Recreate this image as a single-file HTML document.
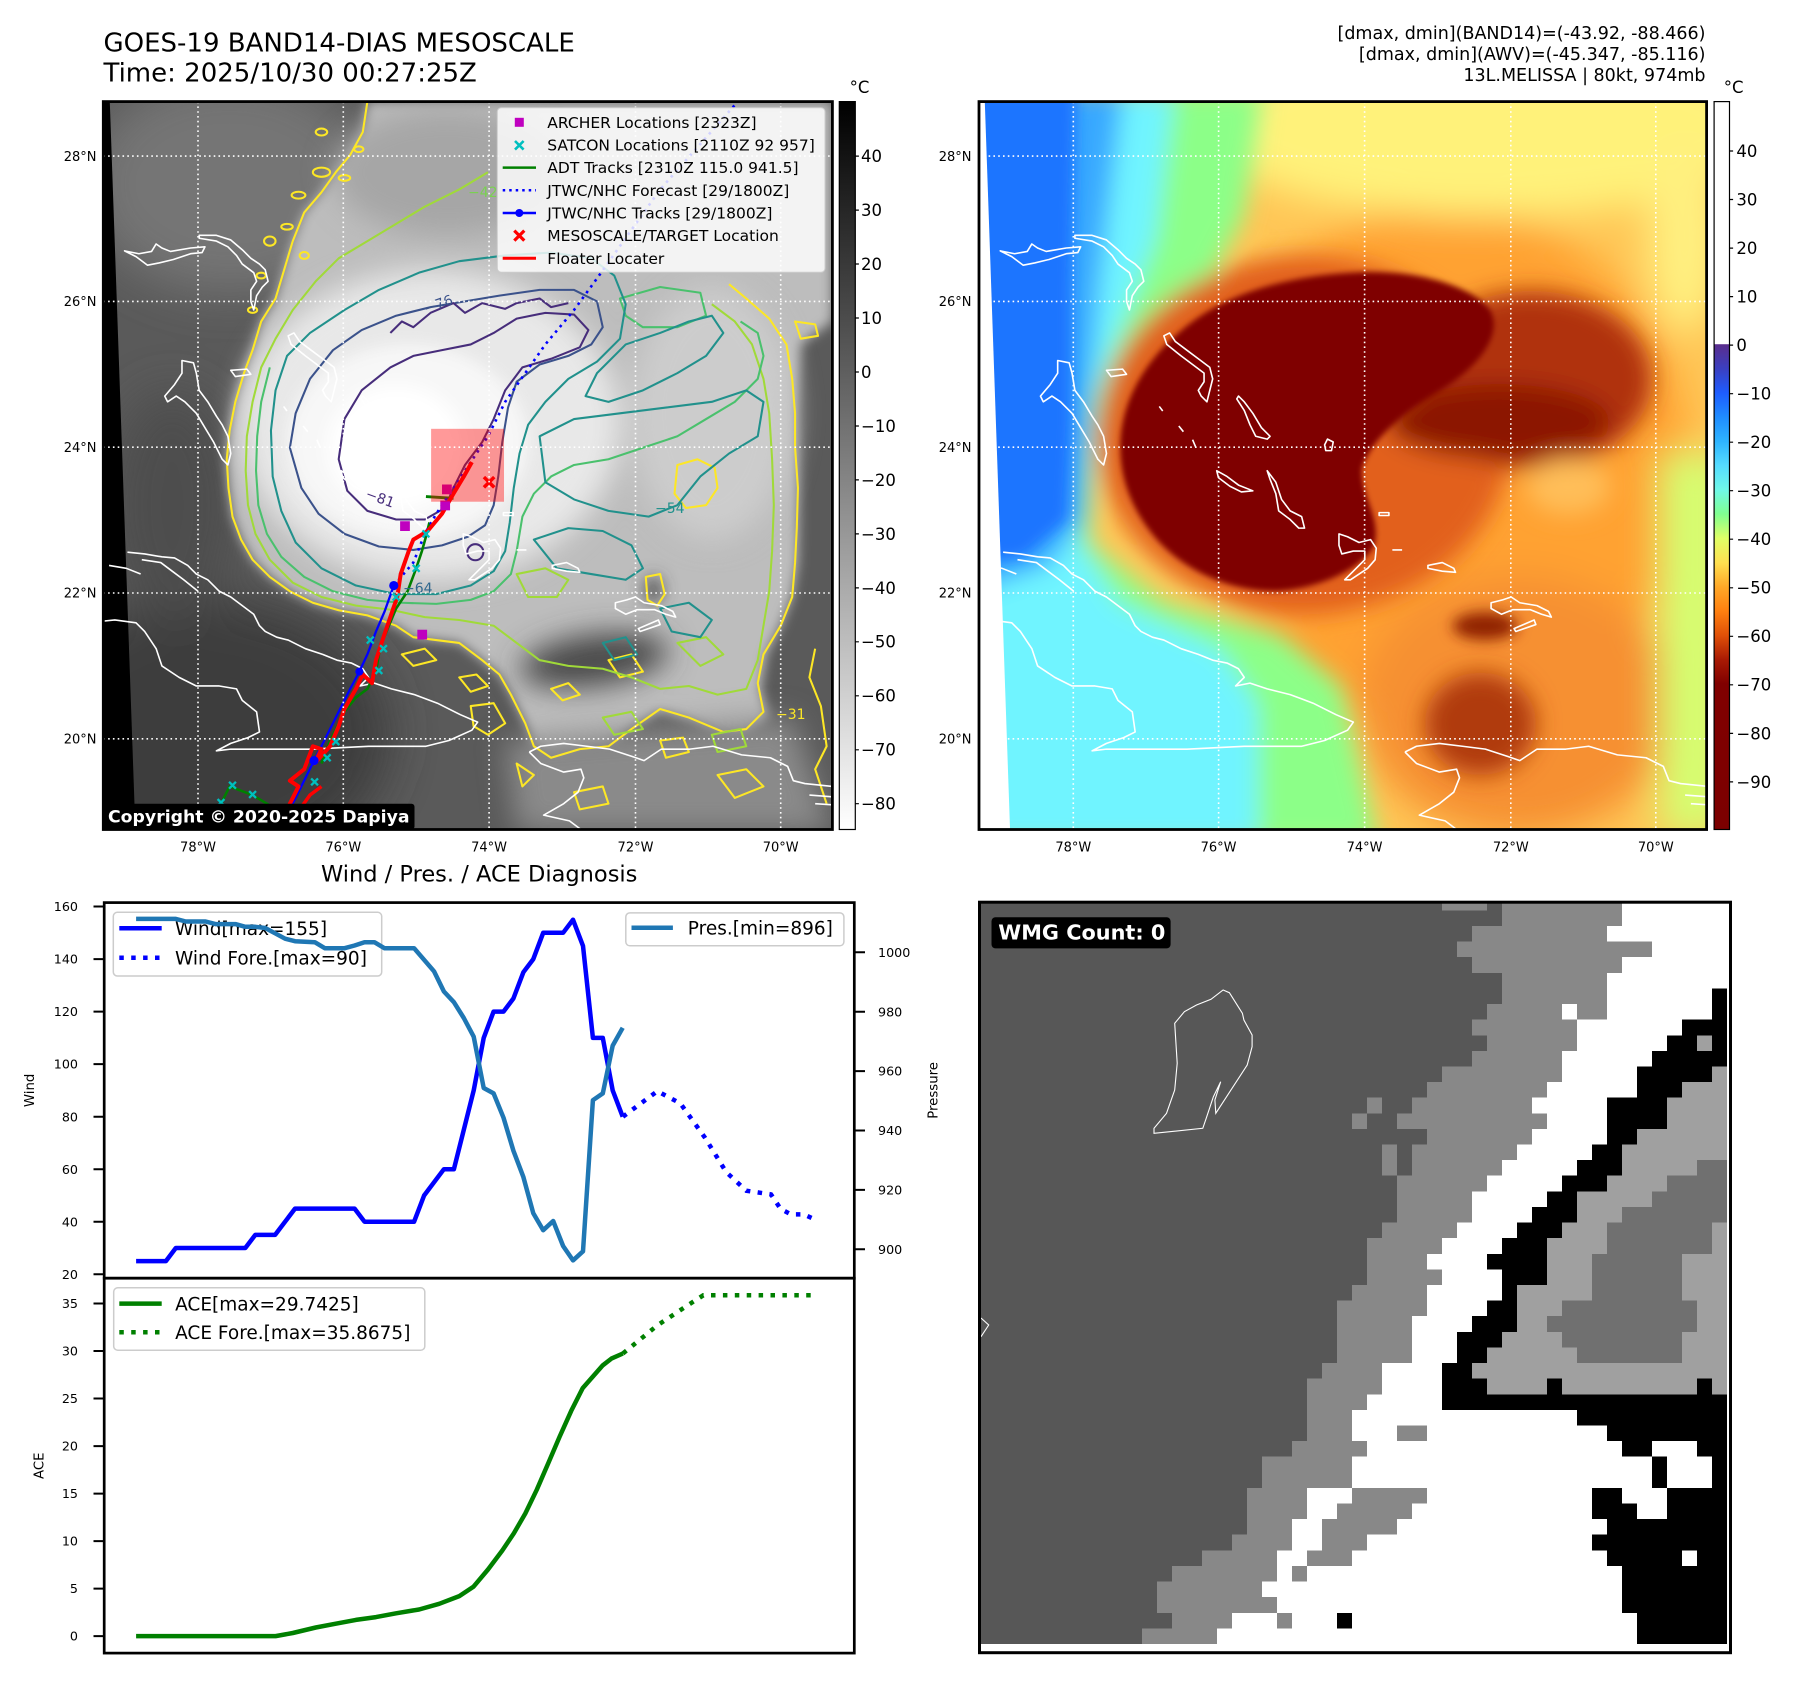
<!DOCTYPE html>
<html><head><meta charset="utf-8">
<style>
html,body{margin:0;padding:0;background:#fff;}
svg{display:block;}
</style></head><body>
<svg width="1797" height="1690" viewBox="0 0 1797 1690" xmlns="http://www.w3.org/2000/svg" xmlns:xlink="http://www.w3.org/1999/xlink" font-family="'DejaVu Sans','Liberation Sans',sans-serif">
<defs>
 <clipPath id="clipL"><rect x="103.3" y="101.6" width="729.1" height="727.9"/></clipPath>
 <clipPath id="clipR"><rect x="979" y="101.6" width="727.6" height="727.9"/></clipPath>
 <clipPath id="clipW"><rect x="979.5" y="902" width="751" height="750.5"/></clipPath>
 <filter id="b40" x="-60%" y="-60%" width="220%" height="220%"><feGaussianBlur stdDeviation="40"/></filter>
 <filter id="b25" x="-60%" y="-60%" width="220%" height="220%"><feGaussianBlur stdDeviation="25"/></filter>
 <filter id="b15" x="-60%" y="-60%" width="220%" height="220%"><feGaussianBlur stdDeviation="15"/></filter>
 <filter id="b10" x="-30%" y="-30%" width="160%" height="160%"><feGaussianBlur stdDeviation="10"/></filter>
 <filter id="b6" x="-30%" y="-30%" width="160%" height="160%"><feGaussianBlur stdDeviation="6"/></filter>
 <linearGradient id="gL" x1="0" y1="0" x2="0" y2="1"><stop offset="0" stop-color="#000"/><stop offset="1" stop-color="#fff"/></linearGradient>
 <linearGradient id="gR" x1="0" y1="0" x2="0" y2="1">
  <stop offset="0" stop-color="#fff"/><stop offset="0.3333" stop-color="#fff"/>
  <stop offset="0.3334" stop-color="#5a2d8c"/><stop offset="0.3667" stop-color="#3b3fc0"/>
  <stop offset="0.4" stop-color="#1e5cff"/><stop offset="0.4333" stop-color="#1f8cff"/>
  <stop offset="0.4667" stop-color="#2eb4ff"/><stop offset="0.5" stop-color="#55dcff"/>
  <stop offset="0.5333" stop-color="#6ff8e8"/><stop offset="0.5667" stop-color="#80ff90"/>
  <stop offset="0.6" stop-color="#e0ff66"/><stop offset="0.6333" stop-color="#ffe050"/>
  <stop offset="0.6667" stop-color="#ffa828"/><stop offset="0.7" stop-color="#ff8010"/>
  <stop offset="0.7333" stop-color="#e05008"/><stop offset="0.7667" stop-color="#a81a04"/>
  <stop offset="0.8" stop-color="#800000"/><stop offset="1" stop-color="#7c0000"/>
 </linearGradient>
 <g id="coast" fill="none" stroke="#fff" stroke-width="2.8" stroke-linejoin="round">
  <path d="M217,437 L237,447 L257,462 L277,458 L302,452 L332,442 L352,440 L357,430 L332,432 L297,438 L282,432 L272,425 L264,438 L242,442 Z"/>
  <path d="M347,410 L377,410 L402,418 L422,435 L437,450 L452,460 L462,470 L467,490 L457,500 L447,515 L442,540 L437,525 L437,505 L447,490 L442,475 L422,460 L412,445 L397,430 L377,420 L347,415 Z"/>
  <path d="M317,628 L337,632 L342,650 L347,680 L362,700 L377,725 L387,740 L397,760 L402,790 L397,810 L387,800 L372,770 L357,745 L342,720 L322,700 L307,690 L292,700 L287,690 L304,670 L317,650 Z"/>
  <path d="M402,645 L430,643 L437,652 L410,656 Z"/>
  <path d="M502,585 L512,580 L522,595 L542,610 L562,625 L582,640 L587,660 L582,680 L577,700 L567,690 L562,680 L572,665 L572,650 L552,635 L532,620 L507,600 Z"/>
  <path d="M494,708 L500,716 M528,742 L536,752 M552,766 L558,780"/>
  <path d="M632,690 L642,700 L657,720 L672,745 L687,760 L682,765 L662,760 L652,740 L642,715 L629,695 Z"/>
  <path d="M787,765 L797,770 L794,785 L784,785 L782,775 Z"/>
  <path d="M682,820 L697,840 L707,870 L722,890 L742,900 L747,920 L737,920 L722,905 L702,890 L697,860 L687,835 Z"/>
  <path d="M594,820 L612,830 L632,845 L657,855 L637,857 L617,847 L597,832 Z"/>
  <path d="M807,930 L822,935 L842,945 L862,940 L872,955 L870,975 L857,990 L842,1000 L827,1010 L817,1010 L832,995 L852,975 L852,960 L832,960 L812,965 L807,950 Z"/>
  <path d="M877,893 L894,893 L894,898 L877,898 Z"/>
  <path d="M900,958 L917,958"/>
  <path d="M962,985 L987,980 L1007,990 L1010,997 L987,995 L962,990 Z"/>
  <path d="M1072,1050 L1092,1045 L1107,1040 L1122,1050 L1152,1055 L1172,1065 L1177,1075 L1160,1070 L1140,1062 L1110,1062 L1090,1070 L1072,1060 Z"/>
  <path d="M1112,1095 L1147,1080 L1150,1088 L1115,1100 Z"/>
  <path d="M222,962 L252,965 L282,970 L304,972 L327,985 L342,1000 L362,1010 L382,1030 L402,1040 L422,1055 L442,1070 L452,1090 L462,1100 L482,1110 L502,1115 L532,1130 L562,1140 L587,1150 L612,1155 L632,1165 L642,1180 L627,1195 L652,1190 L682,1200 L722,1210 L762,1225 L802,1245 L832,1258 L822,1272 L782,1290 L742,1300 L702,1300 L642,1300 L602,1302 L542,1305 L492,1305 L442,1305 L402,1305 L377,1308 L402,1295 L432,1285 L452,1275 L447,1240 L422,1220 L412,1200 L382,1195 L342,1195 L312,1180 L282,1160 L272,1130 L252,1100 L237,1085 L200,1080 L180,1082"/>
  <path d="M247,975 L280,980 L300,995 L320,1010 L345,1030 M190,985 L220,990 L245,1000"/>
  <path d="M922,1310 L942,1300 L982,1295 L1022,1300 L1062,1305 L1102,1318 L1122,1325 L1152,1305 L1202,1305 L1242,1300 L1292,1315 L1342,1320 L1372,1335 L1382,1360 L1402,1365 L1450,1370"/>
  <path d="M922,1310 L942,1330 L982,1345 L1012,1340 L1017,1355 L1007,1380 L982,1400 L947,1420 L992,1430 L1012,1445"/>
  <path d="M1410,1385 L1450,1388 M1420,1400 L1450,1402"/>
 </g>
</defs>

<rect x="0" y="0" width="1797" height="1690" fill="#fff"/>

<!-- ===== Titles ===== -->
<text x="103.5" y="51.5" font-size="26" fill="#000">GOES-19 BAND14-DIAS MESOSCALE</text>
<text x="103.5" y="81.5" font-size="26" fill="#000">Time: 2025/10/30 00:27:25Z</text>
<text x="1705.5" y="39" font-size="17.5" text-anchor="end">[dmax, dmin](BAND14)=(-43.92, -88.466)</text>
<text x="1705.5" y="60" font-size="17.5" text-anchor="end">[dmax, dmin](AWV)=(-45.347, -85.116)</text>
<text x="1705.5" y="81" font-size="17.5" text-anchor="end">13L.MELISSA | 80kt, 974mb</text>

<!-- ===== LEFT MAP ===== -->
<g clip-path="url(#clipL)">
 <g transform="scale(0.57405)">
  <rect x="170" y="170" width="1290" height="1290" fill="#5a5a5a"/>
  <g filter="url(#b40)">
   <ellipse cx="400" cy="320" rx="250" ry="190" fill="#747474"/>
   <ellipse cx="360" cy="1280" rx="320" ry="240" fill="#3e3e3e"/>
   <ellipse cx="300" cy="880" rx="110" ry="200" fill="#4e4e4e"/>
  </g>
  <path filter="url(#b10)" fill="#bdbdbd" d="M640,177 L1450,177 L1450,560 L1395,600 L1388,720 L1392,850 L1390,980 L1380,1040 L1360,1090 L1335,1140 L1325,1200 L1340,1250 L1300,1280 L1260,1280 L1200,1255 L1150,1240 L1100,1270 L1060,1300 L1010,1305 L960,1320 L930,1300 L915,1260 L890,1210 L870,1175 L840,1150 L800,1120 L760,1115 L720,1110 L690,1090 L640,1072 L590,1063 L545,1050 L505,1030 L470,1005 L440,975 L420,940 L405,900 L398,850 L395,800 L400,750 L410,700 L425,650 L440,610 L455,560 L480,520 L495,470 L510,420 L530,370 L560,335 L585,300 L610,270 L632,230 Z"/>
  <g filter="url(#b25)">
   <polygon points="880,1290 1380,1250 1450,1450 900,1450" fill="#8a8a8a"/>
   <ellipse cx="1035" cy="1150" rx="130" ry="45" fill="#4a4a4a" transform="rotate(-8 1035 1150)"/>
   <ellipse cx="780" cy="300" rx="200" ry="110" fill="#a6a6a6"/>
   <ellipse cx="1240" cy="720" rx="140" ry="220" fill="#cccccc"/>
   <ellipse cx="750" cy="740" rx="330" ry="270" fill="#e8e8e8"/>
  </g>
  <g filter="url(#b15)">
   <ellipse cx="710" cy="770" rx="210" ry="170" fill="#f7f7f7"/>
   <ellipse cx="690" cy="780" rx="120" ry="110" fill="#ffffff"/>
   <ellipse cx="1138" cy="1028" rx="14" ry="24" fill="#404040"/>
  </g>
  <polygon points="170,170 191,170 236,1450 170,1450" fill="#000"/>

  <!-- contours -->
  <g fill="none" stroke-width="3.6" stroke-linejoin="round">
   <g stroke="#fde725">
    <path d="M640,177 L632,230 L610,270 L585,300 L560,335 L530,370 L510,420 L495,470 L480,520 L455,560 L440,610 L425,650 L410,700 L400,750 L395,800 L398,850 L405,900 L420,940 L440,975 L470,1005 L505,1030 L545,1050 L590,1063 L640,1072 L690,1090 L720,1110 L760,1115 L800,1120 L840,1150 L870,1175 L890,1210 L915,1260 L930,1300 L960,1320 L1010,1305 L1060,1300 L1100,1270 L1150,1235 L1200,1250 L1260,1275 L1300,1270 L1330,1240 L1320,1190 L1330,1140 L1360,1090 L1380,1040 L1385,980 L1388,920 L1390,850 L1385,780 L1385,720 L1380,660 L1370,600 L1340,555 L1300,520 L1270,495"/>
    <path d="M1420,1130 L1410,1180 L1430,1230 L1440,1300 L1420,1340 L1440,1400"/>
    <path d="M1180,810 L1215,800 L1245,815 L1250,850 L1230,880 L1195,885 L1175,860 Z"/>
    <path d="M1125,1005 L1150,1000 L1158,1035 L1145,1055 L1128,1045 Z"/>
    <path d="M700,1140 L740,1130 L760,1150 L720,1160 Z M800,1180 L830,1175 L850,1195 L820,1205 Z M960,1200 L990,1190 L1010,1210 L980,1220 Z M1060,1150 L1100,1140 L1120,1170 L1080,1180 Z M1250,1350 L1300,1340 L1330,1370 L1280,1390 Z M1000,1380 L1050,1370 L1060,1400 L1010,1410 Z M1385,560 L1420,565 L1425,585 L1395,590 Z"/>
    <ellipse cx="560" cy="300" rx="15" ry="8"/><ellipse cx="520" cy="340" rx="12" ry="6"/>
    <ellipse cx="470" cy="420" rx="10" ry="8"/><ellipse cx="530" cy="445" rx="8" ry="6"/>
    <ellipse cx="440" cy="540" rx="8" ry="5"/><ellipse cx="600" cy="310" rx="10" ry="5"/>
    <ellipse cx="500" cy="395" rx="10" ry="5"/><ellipse cx="625" cy="260" rx="8" ry="5"/>
    <ellipse cx="560" cy="230" rx="10" ry="6"/><ellipse cx="455" cy="480" rx="8" ry="5"/>
    <path d="M820,1230 L860,1225 L880,1260 L850,1280 L825,1265 Z M1150,1290 L1190,1285 L1200,1310 L1160,1320 Z M900,1330 L930,1350 L910,1370 Z"/>
   </g>
   <g stroke="#a0da39">
    <path d="M850,300 L800,330 L740,360 L690,390 L640,420 L590,450 L550,490 L510,540 L480,590 L455,640 L440,700 L430,760 L428,820 L432,880 L445,930 L470,975 L510,1015 L560,1040 L620,1055 L680,1062 L740,1075 L800,1080 L860,1090 L900,1120 L940,1150 L990,1160 L1050,1165 L1100,1180 L1150,1200 L1200,1195 L1250,1210 L1300,1200 L1320,1150 L1330,1090 L1340,1030 L1345,960 L1348,880 L1345,800 L1340,720 L1330,660 L1310,600 L1280,560 L1240,530"/>
    <path d="M900,1000 L950,990 L990,1010 L970,1040 L920,1040 Z M1180,1120 L1230,1110 L1260,1140 L1220,1160 Z M1050,1250 L1100,1240 L1120,1270 L1070,1280 Z M1240,1280 L1290,1270 L1300,1300 L1250,1310 Z"/>
   </g>
   <g stroke="#4ac16d">
    <path d="M470,640 L455,700 L448,760 L446,820 L450,880 L465,930 L490,970 L530,1005 L580,1030 L640,1045 L700,1050 L760,1052 L820,1045 L860,1030 L890,1000 L900,960 L910,900 L930,860 L960,830 L1000,810 L1060,800 L1120,780 L1180,760 L1230,730 L1280,700 L1320,660 L1330,620 L1320,580 L1290,560"/>
    <path d="M1080,520 L1150,500 L1220,510 L1230,550 L1180,570 L1120,570 L1090,550 Z"/>
   </g>
   <g stroke="#21918c">
    <path d="M480,680 L500,620 L540,580 L600,540 L660,505 L730,475 L800,455 L880,445 L960,440 L1030,450 L1070,480 L1090,530 L1080,590 L1040,630 L990,660 L950,700 L920,740 L905,790 L895,850 L888,910 L880,960 L860,995 L820,1020 L760,1035 L690,1035 L620,1020 L560,990 L515,945 L490,890 L475,830 L472,750 Z"/>
    <path d="M1090,600 L1150,580 L1200,560 L1240,550 L1260,580 L1230,620 L1180,650 L1120,680 L1060,700 L1020,690 L1040,650 Z"/>
    <path d="M940,760 L1000,730 L1080,720 L1160,710 L1240,700 L1300,680 L1330,700 L1320,760 L1270,790 L1220,830 L1180,880 L1130,900 L1060,890 L1000,870 L950,840 Z"/>
    <path d="M930,940 L990,920 L1050,925 L1100,950 L1120,990 L1090,1010 L1030,1000 L970,990 Z M1150,1060 L1200,1050 L1240,1080 L1220,1110 L1170,1100 Z M1050,1120 L1090,1110 L1110,1140 L1070,1150 Z"/>
   </g>
   <g stroke="#3b528b">
    <path d="M505,780 L515,720 L540,660 L580,610 L630,575 L690,550 L750,535 L810,525 L870,515 L940,505 L1000,505 L1040,525 L1050,570 L1030,600 L990,620 L940,635 L900,665 L885,710 L875,770 L868,830 L860,880 L845,915 L815,935 L770,950 L720,958 L660,952 L600,930 L555,895 L525,850 Z"/>
   </g>
   <g stroke="#472d7b">
    <path d="M590,800 L600,730 L630,680 L680,640 L720,620 L770,610 L820,600 L860,580 L900,555 L950,545 L1000,548 L1025,575 L1010,605 L960,625 L910,640 L880,680 L860,730 L840,770 L810,810 L790,850 L775,885 L740,905 L690,905 L640,890 L605,855 Z"/>
    <path d="M680,580 L700,560 L720,570 L750,545 L790,528 L810,545 L840,528 L880,538 L900,528 L940,520 L960,535 L990,528"/>
    <circle cx="828" cy="962" r="14"/>
   </g>
  </g>
  <use xlink:href="#coast" href="#coast"/>

  <!-- tracks -->
  <g fill="none" stroke-linejoin="round">
   <path d="M385,1400 L400,1370 L440,1385 L465,1400 L490,1420" stroke="#008000" stroke-width="4.5"/>
   <path d="M560,1330 L575,1290 L600,1240 L620,1215 L640,1200 L655,1170 L660,1140 L665,1120 L690,1060 L710,1030 L725,990 L735,960 L742,935 L748,910" stroke="#008000" stroke-width="4.5"/>
   <path d="M742,865 L790,868" stroke="#008000" stroke-width="5"/>
   <path d="M485,1445 L515,1390 L547,1325 L565,1290 L590,1240 L610,1200 L625,1172 L640,1140 L655,1100 L670,1065 L686,1020" stroke="#0000ff" stroke-width="4"/>
   <path d="M686,1020 L720,980 L740,930 L760,895 L790,850 L820,805 L850,760 L880,700 L950,600 L1000,540 L1040,485 L1150,330 L1280,183" stroke="#0000ff" stroke-width="4.5" stroke-dasharray="4.5 8"/>
   <path d="M490,1445 L505,1400 L520,1370 L505,1360 L530,1340 L545,1300 L560,1305 L548,1330 L575,1300 L590,1265 L600,1235 L620,1200 L632,1175 L648,1190 L655,1150 L668,1110 L685,1060 L692,1040 L698,1000 L712,960 L720,940 L745,925 L770,895 L790,860 L808,830 L822,805" stroke="#ff0000" stroke-width="7"/>
   <path d="M510,1445 L522,1410 L540,1385 L560,1370" stroke="#ff0000" stroke-width="6"/>
  </g>
  <g fill="#0000ff"><circle cx="547" cy="1325" r="8"/><circle cx="626" cy="1170" r="7"/><circle cx="686" cy="1020" r="8"/></g>
  <g stroke="#00bfbf" stroke-width="4">
   <path d="M399,1362 L411,1374 M411,1362 L399,1374 M434,1378 L446,1390 M446,1378 L434,1390 M379,1392 L391,1404 M391,1392 L379,1404 M542,1356 L554,1368 M554,1356 L542,1368 M564,1314 L576,1326 M576,1314 L564,1326 M579,1286 L591,1298 M591,1286 L579,1298 M639,1109 L651,1121 M651,1109 L639,1121 M662,1124 L674,1136 M674,1124 L662,1136 M654,1162 L666,1174 M666,1162 L654,1174 M684,1034 L696,1046 M696,1034 L684,1046 M719,984 L731,996 M731,984 L719,996 M736,924 L748,936 M748,924 L736,936"/>
  </g>
  <g fill="#bf00bf"><rect x="770" y="844" width="17" height="17"/><rect x="697" y="908" width="17" height="17"/><rect x="727" y="1097" width="17" height="17"/><rect x="767" y="872" width="17" height="17"/></g>
  <rect x="751" y="747" width="127" height="127" fill="#ff0000" fill-opacity="0.4"/>
  <path d="M843,831 L861,849 M861,831 L843,849" stroke="#ff0000" stroke-width="6"/>
 </g>
 <g font-size="14">
  <text x="468" y="197" fill="#7ad151">−42</text>
  <text x="424" y="312" fill="#3b528b" transform="rotate(-20 430 307)">−76</text>
  <text x="366" y="500" fill="#472d7b" transform="rotate(20 372 495)">−81</text>
  <text x="403" y="593" fill="#31688e">−64</text>
  <text x="655" y="513" fill="#21918c">−54</text>
  <text x="776" y="719" fill="#fde725">−31</text>
 </g>
 <!-- gridlines -->
 <g stroke="#fff" stroke-width="1.6" stroke-dasharray="1.6 3.2">
  <path d="M198,101.6 V829.5 M343.3,101.6 V829.5 M489.1,101.6 V829.5 M635.5,101.6 V829.5 M780.7,101.6 V829.5"/>
  <path d="M103.3,156.1 H832.4 M103.3,301.4 H832.4 M103.3,447.2 H832.4 M103.3,593 H832.4 M103.3,738.8 H832.4"/>
 </g>
 <!-- legend -->
 <rect x="497.3" y="107.7" width="327.7" height="164.6" rx="4" fill="#fff" fill-opacity="0.82" stroke="#cccccc" stroke-width="1"/>
 <rect x="514.8" y="117.8" width="9" height="9" fill="#bf00bf"/>
 <path d="M515,141 L523.6,149.6 M523.6,141 L515,149.6" stroke="#00bfbf" stroke-width="2.6"/>
 <path d="M502.7,167.6 H536" stroke="#008000" stroke-width="2.5"/>
 <path d="M502.7,190.3 H536" stroke="#0000ff" stroke-width="2.5" stroke-dasharray="2.5 4"/>
 <path d="M502.7,213 H536" stroke="#0000ff" stroke-width="2.5"/><circle cx="519.3" cy="213" r="4" fill="#0000ff"/>
 <path d="M514.3,230.6 L524.3,240.6 M524.3,230.6 L514.3,240.6" stroke="#ff0000" stroke-width="3.2"/>
 <path d="M502.7,258.3 H536" stroke="#ff0000" stroke-width="3"/>
 <g font-size="15.5" fill="#000">
  <text x="547.3" y="127.9">ARCHER Locations [2323Z]</text>
  <text x="547.3" y="150.6">SATCON Locations [2110Z 92 957]</text>
  <text x="547.3" y="173.2">ADT Tracks [2310Z 115.0 941.5]</text>
  <text x="547.3" y="195.9">JTWC/NHC Forecast [29/1800Z]</text>
  <text x="547.3" y="218.6">JTWC/NHC Tracks [29/1800Z]</text>
  <text x="547.3" y="241.2">MESOSCALE/TARGET Location</text>
  <text x="547.3" y="263.9">Floater Locater</text>
 </g>
 <rect x="103.3" y="803.7" width="311.2" height="25.8" rx="3" fill="#000"/>
 <text x="108" y="822.6" font-size="17.3" font-weight="bold" fill="#fff">Copyright © 2020-2025 Dapiya</text>
</g>
<rect x="103.3" y="101.6" width="729.1" height="727.9" fill="none" stroke="#000" stroke-width="2.8"/>

<!-- map ticks -->
<g font-size="13" fill="#000">
 <g text-anchor="end">
  <text x="96.5" y="160.8">28°N</text><text x="96.5" y="306.1">26°N</text><text x="96.5" y="451.9">24°N</text><text x="96.5" y="597.7">22°N</text><text x="96.5" y="743.5">20°N</text>
  <text x="971.5" y="160.8">28°N</text><text x="971.5" y="306.1">26°N</text><text x="971.5" y="451.9">24°N</text><text x="971.5" y="597.7">22°N</text><text x="971.5" y="743.5">20°N</text>
 </g>
 <g text-anchor="middle">
  <text x="198" y="851.4">78°W</text><text x="343.3" y="851.4">76°W</text><text x="489.1" y="851.4">74°W</text><text x="635.5" y="851.4">72°W</text><text x="780.7" y="851.4">70°W</text>
  <text x="1073.3" y="851.4">78°W</text><text x="1218.6" y="851.4">76°W</text><text x="1364.6" y="851.4">74°W</text><text x="1510.8" y="851.4">72°W</text><text x="1655.8" y="851.4">70°W</text>
 </g>
</g>

<!-- left colorbar -->
<rect x="839.3" y="101.6" width="16" height="727.9" fill="url(#gL)" stroke="#000" stroke-width="1.2"/>
<text x="849.6" y="93" font-size="16.5">°C</text>
<g stroke="#000" stroke-width="1.2">
 <path d="M855.3,156.1h3.6M855.3,210.1h3.6M855.3,264h3.6M855.3,318h3.6M855.3,372h3.6M855.3,426h3.6M855.3,479.9h3.6M855.3,533.9h3.6M855.3,587.9h3.6M855.3,641.8h3.6M855.3,695.8h3.6M855.3,749.8h3.6M855.3,803.7h3.6"/>
</g>
<g font-size="16.5" fill="#000">
 <text x="861" y="162">40</text><text x="861" y="216">30</text><text x="861" y="269.9">20</text><text x="861" y="323.9">10</text><text x="861" y="377.9">0</text>
 <text x="861" y="431.9">−10</text><text x="861" y="485.8">−20</text><text x="861" y="539.8">−30</text><text x="861" y="593.8">−40</text><text x="861" y="647.7">−50</text>
 <text x="861" y="701.7">−60</text><text x="861" y="755.7">−70</text><text x="861" y="809.6">−80</text>
</g>

<!-- ===== RIGHT MAP ===== -->
<g clip-path="url(#clipR)">
 <g transform="translate(979,100) scale(0.46425,0.46555)">
  <rect x="-10" y="-10" width="1590" height="1590" fill="#ffc656"/>
  <g filter="url(#b40)">
   <ellipse cx="1000" cy="790" rx="530" ry="560" fill="#ffa232"/>
   <ellipse cx="1160" cy="1300" rx="340" ry="280" fill="#f69030"/>
   <ellipse cx="1100" cy="60" rx="620" ry="190" fill="#fff27a"/>
   <rect x="1470" y="760" width="140" height="820" fill="#d4ff72"/>
   <ellipse cx="1520" cy="300" rx="80" ry="200" fill="#fff080"/>
  </g>
  <g filter="url(#b25)">
   <path d="M-20,-20 L610,-20 L570,250 L480,420 L330,560 L250,700 L240,950 L400,1080 L650,1150 L780,1260 L860,1600 L-20,1600 Z" fill="#8cff88"/>
   <path d="M-20,-20 L420,-20 L380,300 L300,500 L240,650 L220,950 L300,1080 L520,1180 L600,1300 L600,1600 L-20,1600 Z" fill="#70f4ff"/>
   <path d="M-20,-20 L310,-20 L260,400 L240,650 L225,900 L150,1000 L-20,1060 Z" fill="#38a8ff"/>
   <ellipse cx="700" cy="720" rx="445" ry="385" fill="#e2601a"/>
   <ellipse cx="1190" cy="600" rx="260" ry="190" fill="#b0320c"/>
   <ellipse cx="1270" cy="830" rx="90" ry="60" fill="#ffbe58"/>
   <ellipse cx="1080" cy="1340" rx="120" ry="110" fill="#b03a10"/>
   <ellipse cx="1120" cy="690" rx="240" ry="80" fill="#8c1406"/>
  </g>
  <g filter="url(#b15)">
   <path d="M-20,-20 L210,-20 L200,400 L200,700 L190,900 L100,980 L-20,1000 Z" fill="#1a74ff"/>
   <ellipse cx="1090" cy="1130" rx="70" ry="30" fill="#902000"/>
  </g>
  <path filter="url(#b6)" fill="#7f0000" d="M305,760 C300,650 360,560 430,500 C520,420 650,378 820,370 C950,365 1060,400 1100,450 C1130,500 1080,570 1000,620 C920,670 850,720 825,790 C820,850 870,900 850,960 C820,1010 730,1050 640,1055 C540,1055 440,1010 380,940 C330,880 308,820 305,760 Z"/>
  <polygon points="-10,-10 12,-10 68,1600 -10,1600" fill="#fff"/>
 </g>
 <use xlink:href="#coast" href="#coast" transform="translate(875.7,0) scale(0.57405)"/>
 <g stroke="#fff" stroke-width="1.6" stroke-dasharray="1.6 3.2">
  <path d="M1073.3,101.6 V829.5 M1218.6,101.6 V829.5 M1364.6,101.6 V829.5 M1510.8,101.6 V829.5 M1655.8,101.6 V829.5"/>
  <path d="M979,156.1 H1706.6 M979,301.4 H1706.6 M979,447.2 H1706.6 M979,593 H1706.6 M979,738.8 H1706.6"/>
 </g>
</g>
<rect x="979" y="101.6" width="727.6" height="727.9" fill="none" stroke="#000" stroke-width="2.8"/>

<!-- right colorbar -->
<rect x="1714.1" y="101.6" width="15.4" height="727.9" fill="url(#gR)" stroke="#000" stroke-width="1.2"/>
<text x="1723.8" y="93" font-size="16.5">°C</text>
<g stroke="#000" stroke-width="1.2">
 <path d="M1729.5,151h3.6M1729.5,199.5h3.6M1729.5,248.1h3.6M1729.5,296.6h3.6M1729.5,345.1h3.6M1729.5,393.7h3.6M1729.5,442.2h3.6M1729.5,490.7h3.6M1729.5,539.2h3.6M1729.5,587.8h3.6M1729.5,636.3h3.6M1729.5,684.8h3.6M1729.5,733.4h3.6M1729.5,781.9h3.6"/>
</g>
<g font-size="16.5" fill="#000">
 <text x="1736.4" y="156.9">40</text><text x="1736.4" y="205.4">30</text><text x="1736.4" y="254">20</text><text x="1736.4" y="302.5">10</text><text x="1736.4" y="351">0</text>
 <text x="1736.4" y="399.6">−10</text><text x="1736.4" y="448.1">−20</text><text x="1736.4" y="496.6">−30</text><text x="1736.4" y="545.1">−40</text><text x="1736.4" y="593.7">−50</text>
 <text x="1736.4" y="642.2">−60</text><text x="1736.4" y="690.7">−70</text><text x="1736.4" y="739.3">−80</text><text x="1736.4" y="787.8">−90</text>
</g>

<!-- ===== WIND / PRES / ACE ===== -->
<text x="479.2" y="881.5" font-size="22.5" text-anchor="middle">Wind / Pres. / ACE Diagnosis</text>
<polyline fill="none" stroke="#0000ff" stroke-width="4.5" stroke-linejoin="round" points="136.1,1261.1 165.9,1261.1 175.8,1248.0 245.3,1248.0 255.3,1234.9 275.1,1234.9 285.1,1221.7 295.0,1208.6 354.6,1208.6 364.5,1221.7 414.1,1221.7 424.1,1195.5 434.0,1182.3 443.9,1169.2 453.9,1169.2 463.8,1129.8 473.7,1090.4 483.7,1037.9 493.6,1011.6 503.5,1011.6 513.4,998.5 523.4,972.2 533.3,959.1 543.2,932.8 563.1,932.8 573.0,919.7 583.0,945.9 592.9,1037.9 602.8,1037.9 612.7,1090.4 622.7,1116.7"/>
<polyline fill="none" stroke="#0000ff" stroke-width="4.5" stroke-dasharray="4.5 7.4" points="622.9,1116.7 657.3,1091.2 680.3,1103.3 705.0,1137.7 726.2,1172.1 746.3,1190.7 771.0,1194.4 780.8,1209.1 791.1,1214.4 803.7,1214.4 818.1,1220.9"/>
<rect x="113.3" y="912.3" width="268.4" height="63.7" rx="4" fill="#fff" fill-opacity="0.8" stroke="#cccccc" stroke-width="1.5"/>
<path d="M119.3,928.3 H161.7" stroke="#0000ff" stroke-width="4.5"/>
<path d="M119.3,957.7 H161.7" stroke="#0000ff" stroke-width="4.5" stroke-dasharray="4.5 7.4"/>
<text x="175" y="935" font-size="18.5">Wind[max=155]</text>
<text x="175" y="964.4" font-size="18.5">Wind Fore.[max=90]</text>
<polyline fill="none" stroke="#1f77b4" stroke-width="4.5" stroke-linejoin="round" points="136.1,918.9 175.8,918.9 185.8,921.5 205.6,921.5 215.5,924.1 235.4,924.1 245.3,926.8 255.3,926.8 265.2,928.0 275.1,933.3 285.1,938.7 295.0,941.2 314.8,942.2 324.8,948.2 344.6,948.2 354.6,945.5 364.5,942.2 374.4,942.2 384.4,948.2 414.1,948.2 424.1,959.8 434.0,971.3 443.9,991.5 453.9,1002.2 463.8,1018.0 473.7,1036.7 483.7,1088.0 493.6,1093.4 503.5,1117.7 513.4,1150.7 523.4,1177.1 533.3,1213.3 543.2,1230.2 553.2,1221.0 563.1,1246.0 573.0,1260.4 583.0,1251.3 592.9,1100.2 602.8,1093.4 612.7,1045.6 622.7,1027.8"/>
<rect x="625.8" y="912.9" width="218.1" height="32.9" rx="4" fill="#fff" fill-opacity="0.8" stroke="#cccccc" stroke-width="1.5"/>
<path d="M631.5,927.8 H672.9" stroke="#1f77b4" stroke-width="4.5"/>
<text x="687.8" y="934.5" font-size="18.5">Pres.[min=896]</text>
<polyline fill="none" stroke="#008000" stroke-width="4.5" stroke-linejoin="round" points="136.1,1636.1 275.6,1636.1 292.8,1633.0 315.8,1627.5 335.8,1623.7 355.9,1619.9 376.0,1617.1 396.1,1613.3 419.1,1609.5 439.2,1603.8 459.3,1596.1 473.6,1586.6 488.0,1569.5 502.3,1550.5 513.8,1533.4 525.3,1513.5 536.8,1489.7 548.3,1463.1 559.7,1436.5 571.2,1410.9 582.7,1388.1 602.8,1365.3 611.4,1358.6 622.9,1353.5"/>
<polyline fill="none" stroke="#008000" stroke-width="4.5" stroke-dasharray="4.5 7.4" points="622.9,1353.5 657.3,1325.4 688.9,1304.5 703.3,1295.3 818.1,1295.3"/>
<rect x="113.7" y="1287.8" width="311.1" height="62.4" rx="4" fill="#fff" fill-opacity="0.8" stroke="#cccccc" stroke-width="1.5"/>
<path d="M119.3,1303.6 H161.7" stroke="#008000" stroke-width="4.5"/>
<path d="M119.3,1332.2 H161.7" stroke="#008000" stroke-width="4.5" stroke-dasharray="4.5 7.4"/>
<text x="175.1" y="1310.3" font-size="18.5">ACE[max=29.7425]</text>
<text x="175.1" y="1338.9" font-size="18.5">ACE Fore.[max=35.8675]</text>
<rect x="104.2" y="902.6" width="750.1" height="375.6" fill="none" stroke="#000" stroke-width="2.7"/>
<rect x="104.2" y="1278.2" width="750.1" height="374.9" fill="none" stroke="#000" stroke-width="2.7"/>
<g stroke="#000" stroke-width="2">
 <path d="M93.5,906.5H104.2M93.5,959.1H104.2M93.5,1011.6H104.2M93.5,1064.1H104.2M93.5,1116.7H104.2M93.5,1169.2H104.2M93.5,1221.7H104.2M93.5,1274.3H104.2"/>
 <path d="M854.3,952.3H865M854.3,1011.7H865M854.3,1071.1H865M854.3,1130.5H865M854.3,1189.9H865M854.3,1249.3H865"/>
 <path d="M93.5,1303.5H104.2M93.5,1351H104.2M93.5,1398.5H104.2M93.5,1446.1H104.2M93.5,1493.6H104.2M93.5,1541.1H104.2M93.5,1588.6H104.2M93.5,1636.1H104.2"/>
</g>
<g font-size="12.7" text-anchor="end">
 <text x="78" y="911.1">160</text><text x="78" y="963.7">140</text><text x="78" y="1016.2">120</text><text x="78" y="1068.7">100</text>
 <text x="78" y="1121.3">80</text><text x="78" y="1173.8">60</text><text x="78" y="1226.3">40</text><text x="78" y="1278.9">20</text>
 <text x="78" y="1308.1">35</text><text x="78" y="1355.6">30</text><text x="78" y="1403.1">25</text><text x="78" y="1450.7">20</text>
 <text x="78" y="1498.2">15</text><text x="78" y="1545.7">10</text><text x="78" y="1593.2">5</text><text x="78" y="1640.7">0</text>
</g>
<g font-size="12.7">
 <text x="878" y="956.9">1000</text><text x="878" y="1016.3">980</text><text x="878" y="1075.7">960</text>
 <text x="878" y="1135.1">940</text><text x="878" y="1194.5">920</text><text x="878" y="1253.9">900</text>
</g>
<text transform="translate(34.2,1090.4) rotate(-90)" font-size="13.3" text-anchor="middle">Wind</text>
<text transform="translate(43.5,1465.7) rotate(-90)" font-size="13.3" text-anchor="middle">ACE</text>
<text transform="translate(937.6,1090.4) rotate(-90)" font-size="13.3" text-anchor="middle">Pressure</text>

<!-- ===== WMG panel ===== -->
<g clip-path="url(#clipW)">
 <rect x="979.5" y="902" width="751" height="751" fill="#fff"/>
 <svg x="976.7" y="910.4" width="750.5" height="733.6" viewBox="0 0 50 47" preserveAspectRatio="none" overflow="visible" shape-rendering="crispEdges">
  <rect x="0" y="-1" width="50" height="48" fill="#575757"/>
  <g fill="#888888">
   <rect x="31" y="-1" width="3" height="1"/><rect x="35" y="-1" width="8" height="2"/>
   <rect x="33" y="1" width="9" height="1"/><rect x="32" y="2" width="13" height="1"/><rect x="33" y="3" width="10" height="1"/>
   <rect x="35" y="4" width="7" height="2"/><rect x="34" y="6" width="5" height="1"/><rect x="40" y="6" width="2" height="1"/>
   <rect x="33" y="7" width="7" height="1"/><rect x="34" y="8" width="6" height="1"/><rect x="33" y="9" width="6" height="1"/>
   <rect x="31" y="10" width="8" height="1"/><rect x="30" y="11" width="8" height="1"/>
   <rect x="26" y="12" width="1" height="1"/><rect x="29" y="12" width="8" height="1"/>
   <rect x="25" y="13" width="1" height="1"/><rect x="28" y="13" width="10" height="1"/>
   <rect x="30" y="14" width="7" height="1"/>
   <rect x="27" y="15" width="1" height="2"/><rect x="29" y="15" width="7" height="1"/><rect x="29" y="16" width="6" height="1"/>
   <rect x="28" y="17" width="6" height="1"/><rect x="28" y="18" width="5" height="2"/>
   <rect x="27" y="20" width="5" height="1"/><rect x="26" y="21" width="5" height="1"/><rect x="26" y="22" width="4" height="1"/>
   <rect x="26" y="23" width="5" height="1"/><rect x="25" y="24" width="5" height="1"/><rect x="24" y="25" width="6" height="1"/>
   <rect x="24" y="26" width="5" height="3"/><rect x="23" y="29" width="4" height="1"/><rect x="22" y="30" width="5" height="1"/>
   <rect x="22" y="31" width="4" height="1"/><rect x="22" y="32" width="3" height="2"/><rect x="28" y="33" width="2" height="1"/>
   <rect x="21" y="34" width="5" height="1"/><rect x="19" y="35" width="6" height="2"/>
   <rect x="18" y="37" width="4" height="1"/><rect x="25" y="37" width="5" height="1"/>
   <rect x="18" y="38" width="4" height="1"/><rect x="24" y="38" width="5" height="1"/>
   <rect x="18" y="39" width="3" height="1"/><rect x="23" y="39" width="5" height="1"/>
   <rect x="17" y="40" width="4" height="1"/><rect x="23" y="40" width="3" height="1"/>
   <rect x="15" y="41" width="5" height="1"/><rect x="22" y="41" width="3" height="1"/>
   <rect x="13" y="42" width="7" height="1"/><rect x="21" y="42" width="1" height="1"/>
   <rect x="12" y="43" width="7" height="1"/><rect x="12" y="44" width="8" height="1"/>
   <rect x="13" y="45" width="4" height="1"/><rect x="20" y="45" width="1" height="1"/>
   <rect x="11" y="46" width="5" height="1"/>
  </g>
  <g fill="#ffffff">
   <rect x="43" y="-1" width="7" height="2"/><rect x="42" y="1" width="8" height="1"/><rect x="45" y="2" width="5" height="1"/>
   <rect x="43" y="3" width="7" height="1"/><rect x="42" y="4" width="8" height="1"/><rect x="42" y="5" width="7" height="1"/>
   <rect x="39" y="6" width="1" height="1"/><rect x="42" y="6" width="7" height="1"/>
   <rect x="40" y="7" width="7" height="1"/><rect x="40" y="8" width="6" height="1"/><rect x="39" y="9" width="6" height="1"/>
   <rect x="39" y="10" width="5" height="1"/><rect x="38" y="11" width="6" height="1"/><rect x="37" y="12" width="5" height="1"/>
   <rect x="38" y="13" width="4" height="1"/><rect x="37" y="14" width="5" height="1"/><rect x="36" y="15" width="5" height="1"/>
   <rect x="35" y="16" width="5" height="1"/><rect x="34" y="17" width="5" height="1"/><rect x="33" y="18" width="5" height="1"/>
   <rect x="33" y="19" width="4" height="1"/><rect x="32" y="20" width="4" height="1"/><rect x="31" y="21" width="4" height="1"/>
   <rect x="30" y="22" width="4" height="1"/><rect x="31" y="23" width="4" height="1"/><rect x="30" y="24" width="5" height="1"/>
   <rect x="30" y="25" width="4" height="1"/><rect x="29" y="26" width="4" height="1"/><rect x="29" y="27" width="3" height="2"/>
   <rect x="27" y="29" width="4" height="2"/><rect x="26" y="31" width="5" height="1"/><rect x="25" y="32" width="15" height="1"/>
   <rect x="25" y="33" width="3" height="1"/><rect x="30" y="33" width="12" height="1"/>
   <rect x="26" y="34" width="17" height="1"/><rect x="45" y="34" width="3" height="1"/>
   <rect x="25" y="35" width="20" height="2"/><rect x="46" y="35" width="3" height="2"/>
   <rect x="22" y="37" width="3" height="1"/><rect x="30" y="37" width="11" height="1"/><rect x="43" y="37" width="3" height="1"/>
   <rect x="22" y="38" width="2" height="1"/><rect x="29" y="38" width="12" height="1"/><rect x="44" y="38" width="2" height="1"/>
   <rect x="21" y="39" width="2" height="1"/><rect x="28" y="39" width="14" height="1"/>
   <rect x="21" y="40" width="2" height="1"/><rect x="26" y="40" width="15" height="1"/>
   <rect x="20" y="41" width="2" height="1"/><rect x="25" y="41" width="17" height="1"/><rect x="47" y="41" width="1" height="1"/>
   <rect x="20" y="42" width="1" height="1"/><rect x="22" y="42" width="21" height="1"/>
   <rect x="19" y="43" width="24" height="1"/><rect x="20" y="44" width="23" height="1"/>
   <rect x="17" y="45" width="3" height="1"/><rect x="21" y="45" width="3" height="1"/><rect x="25" y="45" width="19" height="1"/>
   <rect x="16" y="46" width="28" height="1"/>
   <rect x="0" y="47" width="50" height="2"/>
  </g>
  <g fill="#000000">
   <rect x="49" y="5" width="1" height="2"/><rect x="47" y="7" width="3" height="1"/>
   <rect x="46" y="8" width="2" height="1"/><rect x="49" y="8" width="1" height="1"/>
   <rect x="45" y="9" width="5" height="1"/><rect x="44" y="10" width="5" height="1"/><rect x="44" y="11" width="3" height="1"/>
   <rect x="42" y="12" width="4" height="2"/><rect x="42" y="14" width="2" height="1"/><rect x="41" y="15" width="2" height="1"/>
   <rect x="40" y="16" width="3" height="1"/><rect x="39" y="17" width="3" height="1"/><rect x="38" y="18" width="2" height="1"/>
   <rect x="37" y="19" width="3" height="1"/><rect x="36" y="20" width="3" height="1"/><rect x="35" y="21" width="3" height="1"/>
   <rect x="34" y="22" width="4" height="1"/><rect x="35" y="23" width="3" height="1"/><rect x="35" y="24" width="1" height="1"/>
   <rect x="34" y="25" width="2" height="1"/><rect x="33" y="26" width="3" height="1"/><rect x="32" y="27" width="3" height="1"/>
   <rect x="32" y="28" width="2" height="1"/><rect x="31" y="29" width="2" height="1"/>
   <rect x="31" y="30" width="3" height="1"/><rect x="38" y="30" width="1" height="1"/><rect x="48" y="30" width="1" height="1"/>
   <rect x="31" y="31" width="19" height="1"/><rect x="40" y="32" width="10" height="1"/><rect x="42" y="33" width="8" height="1"/>
   <rect x="43" y="34" width="2" height="1"/><rect x="48" y="34" width="2" height="1"/>
   <rect x="45" y="35" width="1" height="2"/><rect x="49" y="35" width="1" height="2"/>
   <rect x="41" y="37" width="2" height="1"/><rect x="46" y="37" width="4" height="1"/>
   <rect x="41" y="38" width="3" height="1"/><rect x="46" y="38" width="4" height="1"/>
   <rect x="42" y="39" width="8" height="1"/><rect x="41" y="40" width="9" height="1"/>
   <rect x="42" y="41" width="5" height="1"/><rect x="48" y="41" width="2" height="1"/>
   <rect x="43" y="42" width="7" height="3"/>
   <rect x="24" y="45" width="1" height="1"/><rect x="44" y="45" width="6" height="2"/>
  </g>
  <g fill="#a0a0a0">
   <rect x="48" y="8" width="1" height="1"/><rect x="49" y="10" width="1" height="1"/><rect x="47" y="11" width="3" height="1"/>
   <rect x="46" y="12" width="4" height="2"/><rect x="44" y="14" width="6" height="1"/><rect x="43" y="15" width="7" height="1"/>
   <rect x="43" y="16" width="5" height="1"/><rect x="42" y="17" width="4" height="1"/><rect x="40" y="18" width="5" height="1"/>
   <rect x="40" y="19" width="3" height="1"/><rect x="39" y="20" width="3" height="1"/><rect x="49" y="20" width="1" height="2"/>
   <rect x="38" y="21" width="4" height="1"/><rect x="38" y="22" width="3" height="2"/><rect x="47" y="22" width="3" height="3"/>
   <rect x="36" y="24" width="5" height="1"/><rect x="36" y="25" width="3" height="1"/><rect x="48" y="25" width="2" height="2"/>
   <rect x="36" y="26" width="2" height="1"/><rect x="35" y="27" width="4" height="1"/><rect x="47" y="27" width="3" height="2"/>
   <rect x="34" y="28" width="6" height="1"/><rect x="33" y="29" width="17" height="1"/>
   <rect x="34" y="30" width="4" height="1"/><rect x="39" y="30" width="9" height="1"/><rect x="49" y="30" width="1" height="1"/>
  </g>
  <g fill="#707070">
   <rect x="48" y="16" width="2" height="1"/><rect x="46" y="17" width="4" height="1"/><rect x="45" y="18" width="5" height="1"/>
   <rect x="43" y="19" width="7" height="1"/><rect x="42" y="20" width="7" height="2"/><rect x="41" y="22" width="6" height="3"/>
   <rect x="39" y="25" width="9" height="1"/><rect x="38" y="26" width="10" height="1"/><rect x="39" y="27" width="8" height="1"/>
   <rect x="40" y="28" width="7" height="1"/>
  </g>
 </svg>
 <path d="M1154,1133.3 L1202.8,1128.3 L1206.2,1118.3 L1213.4,1096.7 L1220.7,1081.7 L1214.9,1100 L1215.8,1113.3 L1247.2,1065 L1252.1,1046.7 L1252.1,1035 L1243.9,1020 L1242.4,1013.3 L1229.4,992.7 L1223.1,990 L1211,999.3 L1196.5,1005 L1184.4,1011.7 L1174.7,1023.3 L1177.2,1063.3 L1174.7,1090 L1166.5,1113.3 L1154,1128.3 Z" fill="none" stroke="#fff" stroke-width="1.1"/>
 <path d="M981,1318 L988.7,1325 L981,1336.7" fill="none" stroke="#fff" stroke-width="1.1"/>
 <rect x="991.5" y="917.2" width="179.1" height="31.2" rx="4" fill="#000"/>
 <text x="998.3" y="939.3" font-size="20.8" font-weight="bold" fill="#fff">WMG Count: 0</text>
</g>
<rect x="979.5" y="902.2" width="751" height="750.5" fill="none" stroke="#000" stroke-width="3"/>
</svg>
</body></html>
